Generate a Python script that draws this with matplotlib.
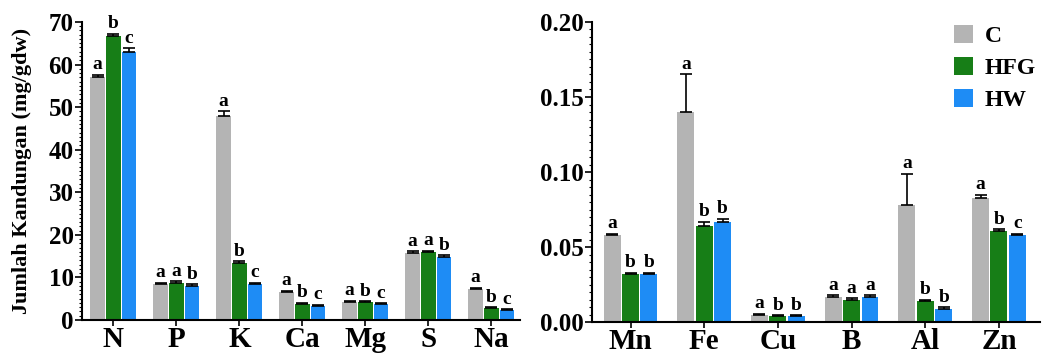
import numpy as np
import matplotlib
matplotlib.use('Agg')
import matplotlib.pyplot as plt
from matplotlib.ticker import MultipleLocator

plt.rcParams['font.family'] = ['Liberation Serif', 'DejaVu Serif']
plt.rcParams['font.weight'] = 'bold'

# data
groups = ['C', 'HFG', 'HW']
colors = ['#b4b4b4', '#177e17', '#1e8cf5']

macro = ['N', 'P', 'K', 'Ca', 'Mg', 'S', 'Na']
macro_c = [57.0, 8.5, 48.0, 6.5, 4.3, 15.8, 7.3]
macro_hfg = [66.8, 8.8, 13.5, 3.8, 4.2, 16.0, 2.8]
macro_hw = [63.0, 8.1, 8.5, 3.3, 3.7, 14.9, 2.3]
macro_err_c = [0.5, 0.3, 1.0, 0.3, 0.2, 0.3, 0.3]
macro_err_hfg = [0.4, 0.3, 0.3, 0.2, 0.2, 0.3, 0.2]
macro_err_hw = [0.8, 0.3, 0.3, 0.2, 0.2, 0.3, 0.2]
macro_let = [['a', 'b', 'c'], ['a', 'a', 'b'], ['a', 'b', 'c'], ['a', 'b', 'c'],
             ['a', 'b', 'c'], ['a', 'a', 'b'], ['a', 'b', 'c']]

micro = ['Mn', 'Fe', 'Cu', 'B', 'Al', 'Zn']
micro_c = [0.058, 0.140, 0.005, 0.017, 0.078, 0.083]
micro_hfg = [0.032, 0.064, 0.004, 0.015, 0.014, 0.061]
micro_hw = [0.032, 0.067, 0.004, 0.017, 0.009, 0.058]
micro_err_c = [0.001, 0.025, 0.0005, 0.001, 0.021, 0.002]
micro_err_hfg = [0.001, 0.003, 0.0005, 0.001, 0.001, 0.001]
micro_err_hw = [0.001, 0.002, 0.0005, 0.001, 0.001, 0.001]
micro_let = [['a', 'b', 'b'], ['a', 'b', 'b'], ['a', 'b', 'b'], ['a', 'a', 'a'],
             ['a', 'b', 'b'], ['a', 'b', 'c']]


def draw_panel(ax, cats, vals, errs, letters, pad):
    x = np.arange(len(cats))
    w = 0.23
    offs = [-0.25, 0, 0.25]
    for i in range(3):
        v = np.array(vals[i])
        e = np.array(errs[i])
        ax.bar(x + offs[i], v, w, color=colors[i], label=groups[i], zorder=2)
        ax.errorbar(x + offs[i], v, yerr=[np.zeros_like(e), e], fmt='none',
                    ecolor='black', elinewidth=1.2, capsize=4, capthick=1.2, zorder=3)
        for j in range(len(cats)):
            ax.text(x[j] + offs[i], v[j] + e[j] + pad, letters[j][i],
                    ha='center', va='bottom', fontsize=14, fontweight='bold')
    ax.set_xticks(x)
    ax.set_xticklabels(cats, fontsize=21, fontweight='bold')
    ax.spines['top'].set_visible(False)
    ax.spines['right'].set_visible(False)
    ax.spines['left'].set_linewidth(1.5)
    ax.spines['bottom'].set_linewidth(1.5)
    ax.tick_params(axis='x', length=4, width=1.2, pad=0)
    ax.tick_params(axis='y', which='major', length=5, width=1.2, labelsize=18, pad=1)
    ax.tick_params(axis='y', which='minor', length=2.5, width=0.8)
    for t in ax.get_yticklabels():
        t.set_fontweight('bold')


fig = plt.figure(figsize=(10.5, 3.54), dpi=100)
ax1 = fig.add_axes([0.078, 0.096, 0.417, 0.842])
ax2 = fig.add_axes([0.564, 0.09, 0.426, 0.848])

draw_panel(ax1, macro, [macro_c, macro_hfg, macro_hw],
           [macro_err_c, macro_err_hfg, macro_err_hw], macro_let, 0.4)
ax1.set_ylim(0, 70)
ax1.set_xlim(-0.5, 6.45)
ax1.yaxis.set_major_locator(MultipleLocator(10))
ax1.yaxis.set_minor_locator(MultipleLocator(1))
ax1.set_ylabel('Jumlah Kandungan (mg/gdw)', fontsize=16, fontweight='bold')
ax1.yaxis.set_label_coords(-0.115, 0.5)

draw_panel(ax2, micro, [micro_c, micro_hfg, micro_hw],
           [micro_err_c, micro_err_hfg, micro_err_hw], micro_let, 0.001)
ax2.set_ylim(0, 0.2)
ax2.set_xlim(-0.52, 5.55)
ax2.yaxis.set_major_locator(MultipleLocator(0.05))
ax2.yaxis.set_minor_locator(MultipleLocator(0.005))
ax2.set_yticklabels(['%.2f' % t for t in ax2.get_yticks()])
for t in ax2.get_yticklabels():
    t.set_fontweight('bold')

ax2.legend(loc='upper right', bbox_to_anchor=(1.04, 1.06), frameon=False,
           prop={'size': 17, 'weight': 'bold'}, handlelength=0.8, handleheight=0.8,
           handletextpad=0.5, labelspacing=0.4)

fig.savefig('out.png', dpi=100)
